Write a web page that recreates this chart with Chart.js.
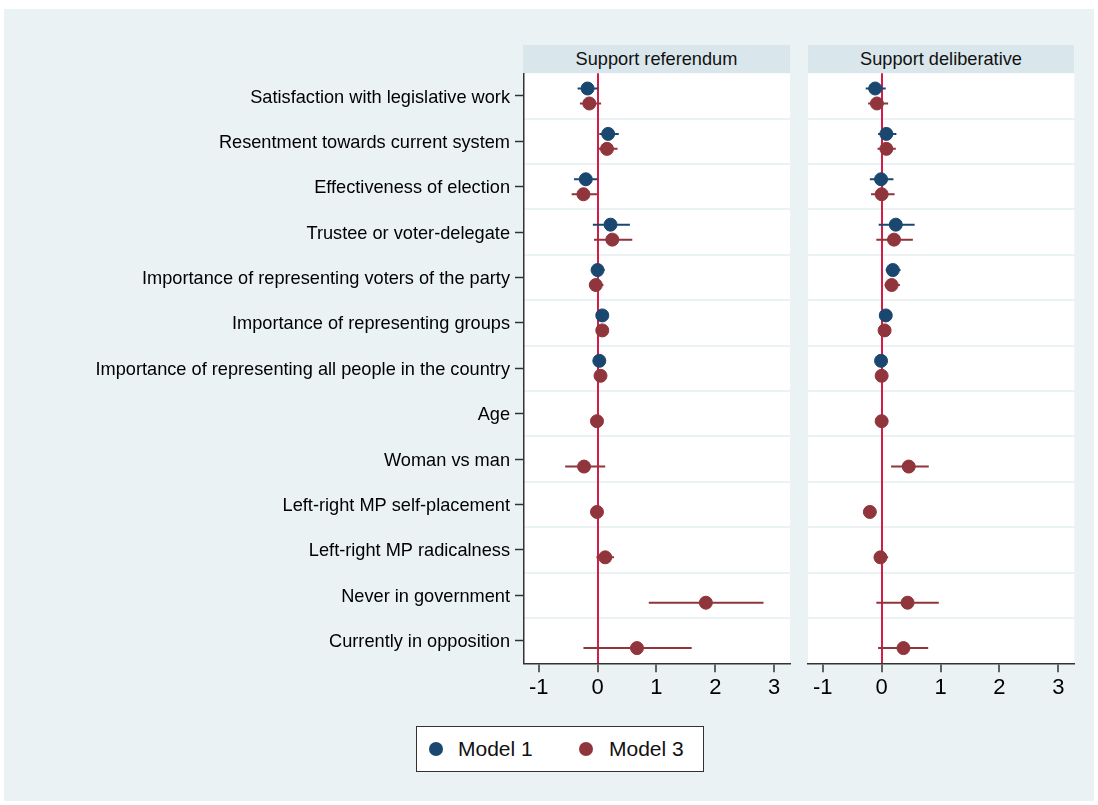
<!DOCTYPE html>
<html>
<head>
<meta charset="utf-8">
<script src="https://cdn.jsdelivr.net/npm/chart.js@4/dist/chart.umd.min.js"></script>
<style>
  html, body { margin: 0; padding: 0; background: #ffffff; }
  body { width: 1098px; height: 805px; position: relative; overflow: hidden;
         font-family: "Liberation Sans", Arial, Helvetica, sans-serif; }
  #bg { position: absolute; left: 4px; top: 9px; width: 1090px; height: 792px; background: #eaf2f3; }
  .wrap { position: absolute; top: 0; height: 710px; }
  .head { position: absolute; top: 45px; height: 28px; line-height: 29px; background: #d9e6eb;
          text-align: center; font-size: 18.2px; color: #111; }
  #legend { position: absolute; left: 416px; top: 726px; width: 286px; height: 44px;
            border: 1.5px solid #333; background: #fff; }
  .dot { position: absolute; top: 15px; width: 14px; height: 14px; border-radius: 50%; }
  .lab { position: absolute; top: 9px; font-size: 21px; color: #111; line-height: 26px; }
</style>
</head>
<body>
<div id="bg"></div>
<div class="wrap" style="left:0; width:800px;"><canvas id="cRef" width="800" height="710"></canvas></div>
<div class="wrap" style="left:800px; width:298px;"><canvas id="cDel" width="298" height="710"></canvas></div>
<div class="head" style="left:523px; width:267px;">Support referendum</div>
<div class="head" style="left:808px; width:266px;">Support deliberative</div>
<div id="legend">
  <div class="dot" style="left:12px; background:#1a476f;"></div>
  <div class="lab" style="left:41px;">Model 1</div>
  <div class="dot" style="left:162px; background:#90353b;"></div>
  <div class="lab" style="left:192px;">Model 3</div>
</div>
<script>
// Row labels, top to bottom
const categories = [
  "Satisfaction with legislative work",
  "Resentment towards current system",
  "Effectiveness of election",
  "Trustee or voter-delegate",
  "Importance of representing voters of the party",
  "Importance of representing groups",
  "Importance of representing all people in the country",
  "Age",
  "Woman vs man",
  "Left-right MP self-placement",
  "Left-right MP radicalness",
  "Never in government",
  "Currently in opposition"
];
const xTicks = [-1, 0, 1, 2, 3];

// Support referendum: coefficients and confidence bounds
const refM1   = [-0.17, 0.18, -0.20, 0.22, 0.00, 0.08, 0.03, null, null, null, null, null, null];
const refM1Lo = [-0.34, 0.03, -0.40, -0.08, -0.10, 0.03, -0.02, null, null, null, null, null, null];
const refM1Hi = [0.01, 0.36, 0.00, 0.55, 0.12, 0.13, 0.08, null, null, null, null, null, null];
const refM3   = [-0.14, 0.16, -0.24, 0.25, -0.03, 0.08, 0.05, -0.01, -0.23, -0.01, 0.13, 1.84, 0.67];
const refM3Lo = [-0.30, 0.02, -0.44, -0.06, -0.14, 0.03, 0.00, -0.03, -0.55, -0.04, -0.02, 0.87, -0.24];
const refM3Hi = [0.06, 0.34, -0.01, 0.59, 0.10, 0.13, 0.10, 0.01, 0.13, 0.02, 0.28, 2.82, 1.60];

// Support deliberative: coefficients and confidence bounds
const delM1   = [-0.11, 0.08, -0.01, 0.24, 0.19, 0.07, -0.01, null, null, null, null, null, null];
const delM1Lo = [-0.27, -0.06, -0.20, -0.05, 0.07, 0.02, -0.05, null, null, null, null, null, null];
const delM1Hi = [0.07, 0.25, 0.20, 0.56, 0.32, 0.12, 0.03, null, null, null, null, null, null];
const delM3   = [-0.08, 0.08, 0.00, 0.21, 0.17, 0.05, 0.00, 0.00, 0.46, -0.20, -0.02, 0.44, 0.37];
const delM3Lo = [-0.23, -0.07, -0.18, -0.09, 0.05, 0.00, -0.04, -0.02, 0.16, -0.23, -0.12, -0.09, -0.06];
const delM3Hi = [0.11, 0.24, 0.22, 0.53, 0.31, 0.10, 0.04, 0.02, 0.80, -0.17, 0.11, 0.97, 0.79];

const BLUE = '#1a476f';
const RED = '#90353b';
const ZERO = '#d41c48';
const FONT = '"Liberation Sans", Arial, Helvetica, sans-serif';
const SHIFT = 0.165; // vertical offset of each model within a row

function pointData(vals, off) {
  const out = [];
  vals.forEach((v, i) => { if (v !== null) out.push({ x: v, y: i + 1 + off }); });
  return out;
}
// Each interval is a two-point segment followed by a gap point
function ciData(vals, lo, hi, off) {
  const out = [];
  vals.forEach((v, i) => {
    if (v === null) return;
    const y = i + 1 + off;
    out.push({ x: lo[i], y: y }, { x: hi[i], y: y }, { x: hi[i], y: null });
  });
  return out;
}

// White plotting region
const plotBg = {
  id: 'plotBg',
  beforeDraw(chart) {
    const a = chart.chartArea, ctx = chart.ctx;
    ctx.save();
    ctx.fillStyle = '#ffffff';
    ctx.fillRect(a.left, a.top, a.right - a.left, a.bottom - a.top);
    ctx.restore();
  }
};

function makePanel(id, m1, m1Lo, m1Hi, m3, m3Lo, m3Hi, first) {
  const datasets = [
    { label: 'Model 1', data: pointData(m1, -SHIFT), showLine: false, order: 0,
      pointRadius: 6.5, pointHoverRadius: 6.5, pointBackgroundColor: BLUE, pointBorderColor: BLUE, pointBorderWidth: 1 },
    { label: 'Model 3', data: pointData(m3, SHIFT), showLine: false, order: 0,
      pointRadius: 6.5, pointHoverRadius: 6.5, pointBackgroundColor: RED, pointBorderColor: RED, pointBorderWidth: 1 },
    { label: 'Model 1 CI', data: ciData(m1, m1Lo, m1Hi, -SHIFT), showLine: true, spanGaps: false, order: 1,
      borderColor: BLUE, borderWidth: 2, pointRadius: 0, pointHoverRadius: 0 },
    { label: 'Model 3 CI', data: ciData(m3, m3Lo, m3Hi, SHIFT), showLine: true, spanGaps: false, order: 1,
      borderColor: RED, borderWidth: 2, pointRadius: 0, pointHoverRadius: 0 }
  ];
  const yBase = { type: 'linear', min: 0.5, max: 13.5, reverse: true, position: 'left' };
  const scales = {
    // row separators between categories
    yg: Object.assign({}, yBase, {
      display: true,
      afterBuildTicks: s => { s.ticks = categories.slice(1).map((c, i) => ({ value: i + 1.5 })); },
      afterFit: s => { s.width = 0; },
      ticks: { display: false },
      grid: { color: '#eaf2f3', lineWidth: 2, drawTicks: false },
      border: { display: false }
    }),
    y: Object.assign({}, yBase, {
      display: true,
      afterBuildTicks: s => { s.ticks = categories.map((c, i) => ({ value: i + 1 })); },
      afterFit: s => { s.width = first ? 524 : 8; },
      ticks: { display: first, autoSkip: false, padding: 5, labelOffset: 1.5, color: '#000',
               font: { family: FONT, size: 18.2 },
               callback: v => categories[v - 1] },
      grid: { drawOnChartArea: false, drawTicks: first, tickLength: first ? 9 : 0, tickColor: '#333', tickWidth: 1.5 },
      border: { display: first, color: '#333', width: 1.5 }
    }),
    x: {
      type: 'linear', min: -1.25, max: 3.27, position: 'bottom',
      afterBuildTicks: s => { s.ticks = xTicks.map(v => ({ value: v })); },
      afterFit: s => { s.height = 46.7; },
      ticks: { autoSkip: false, padding: 2, color: '#000', font: { family: FONT, size: 22 } },
      grid: { color: c => (c.tick && c.tick.value === 0) ? ZERO : 'rgba(0,0,0,0)',
              lineWidth: 2, tickLength: 9, tickColor: '#333', tickWidth: 1.5 },
      border: { color: '#333', width: 1.5 }
    }
  };
  return new Chart(document.getElementById(id), {
    type: 'line',
    data: { datasets: datasets },
    options: {
      responsive: false,
      animation: false,
      devicePixelRatio: 1,
      events: [],
      layout: { padding: first ? { left: 0, right: 10, top: 73.3, bottom: 0 }
                               : { left: 0, right: 23.7, top: 73.3, bottom: 0 } },
      plugins: { legend: { display: false }, tooltip: { enabled: false } },
      scales: scales
    },
    plugins: [plotBg]
  });
}

makePanel('cRef', refM1, refM1Lo, refM1Hi, refM3, refM3Lo, refM3Hi, true);
makePanel('cDel', delM1, delM1Lo, delM1Hi, delM3, delM3Lo, delM3Hi, false);
</script>
</body>
</html>
